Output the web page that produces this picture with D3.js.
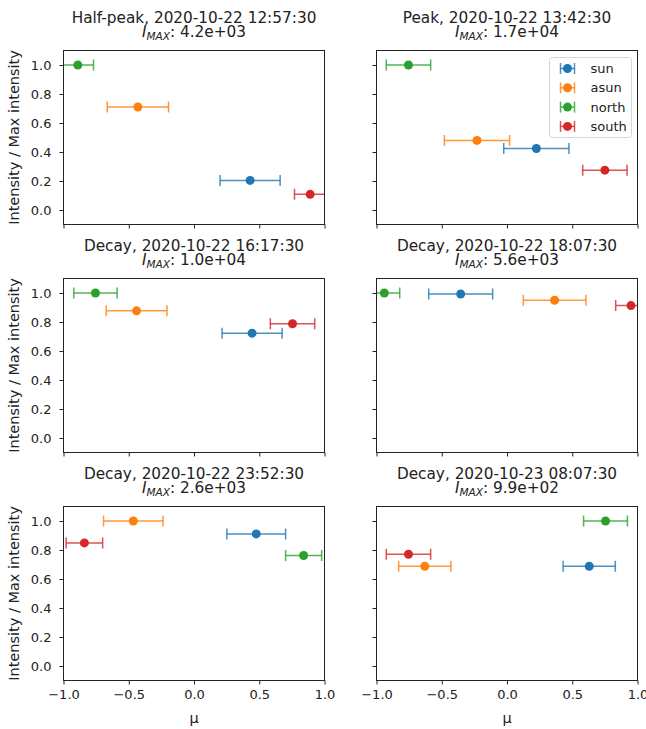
<!DOCTYPE html>
<html>
<head>
<meta charset="utf-8">
<script src="https://cdn.jsdelivr.net/npm/d3@7"></script>
<style>
  body { margin: 0; background: #fff; }
  svg { font-family: "DejaVu Sans", sans-serif; }
  .tick text { fill: #222; }
  .tick line { stroke: #222; }
</style>
</head>
<body>
<div id="chart"></div>
<script>
// series drawn in each panel, in draw order
var series = ["sun", "asun", "north", "south"];
var palette = ["#1f77b4", "#ff7f0e", "#2ca02c", "#d62728"];

// panel titles and max intensity
var phases = ["Half-peak", "Peak", "Decay", "Decay", "Decay", "Decay"];
var times = ["2020-10-22 12:57:30", "2020-10-22 13:42:30", "2020-10-22 16:17:30",
             "2020-10-22 18:07:30", "2020-10-22 23:52:30", "2020-10-23 08:07:30"];
var imax = ["4.2e+03", "1.7e+04", "1.0e+04", "5.6e+03", "2.6e+03", "9.9e+02"];

// mu (center) per panel: sun, asun, north, south
var mu = [
  [0.43, -0.43, -0.89, 0.89],
  [0.225, -0.23, -0.755, 0.75],
  [0.445, -0.44, -0.755, 0.755],
  [-0.355, 0.365, -0.94, 0.95],
  [0.477, -0.465, 0.84, -0.84],
  [0.63, -0.63, 0.755, -0.755]
];
// half width of the mu bin
var muErr = [
  [0.23, 0.235, 0.12, 0.12],
  [0.25, 0.25, 0.17, 0.17],
  [0.23, 0.233, 0.166, 0.17],
  [0.245, 0.24, 0.118, 0.117],
  [0.225, 0.228, 0.138, 0.14],
  [0.2, 0.2, 0.168, 0.17]
];
// intensity / max intensity
var intensity = [
  [0.204, 0.71, 1.0, 0.108],
  [0.424, 0.48, 1.0, 0.275],
  [0.723, 0.877, 1.0, 0.788],
  [0.993, 0.95, 1.0, 0.913],
  [0.911, 1.0, 0.762, 0.849],
  [0.688, 0.688, 1.0, 0.771]
];

var xTicks = [-1, -0.5, 0, 0.5, 1];
var yTicks = [0, 0.2, 0.4, 0.6, 0.8, 1.0];

var width = 646, height = 729;
var colLeft = [63.5, 376.5], rowTop = [50.5, 278.5, 506.5];
var plotW = 261, plotH = 174;
var cap = 5.5, radius = 4.5;
var tickFont = 13, titleFont = 15.3, labelFont = 14.5;

var svg = d3.select("#chart").append("svg")
  .attr("width", width)
  .attr("height", height);

var x = d3.scaleLinear().domain([-1, 1]).range([0, plotW]);
var y = d3.scaleLinear().domain([-0.1, 1.1]).range([plotH, 0]);
var fmt = d3.format(".1f");

function errorbar(g, cx, cy, lo, hi, color) {
  var eb = g.append("g");
  eb.append("line")
    .attr("x1", lo).attr("x2", hi).attr("y1", cy).attr("y2", cy)
    .attr("stroke", color).attr("stroke-width", 1.5).attr("stroke-opacity", 0.8);
  [lo, hi].forEach(function (cxx) {
    eb.append("line")
      .attr("x1", cxx).attr("x2", cxx).attr("y1", cy - cap).attr("y2", cy + cap)
      .attr("stroke", color).attr("stroke-width", 1.5).attr("stroke-opacity", 0.8);
  });
  eb.append("circle")
    .attr("cx", cx).attr("cy", cy).attr("r", radius)
    .attr("fill", color);
}

phases.forEach(function (phase, i) {
  var col = i % 2, row = Math.floor(i / 2);
  var g = svg.append("g")
    .attr("transform", "translate(" + colLeft[col] + "," + rowTop[row] + ")");

  g.append("clipPath").attr("id", "clip" + i)
    .append("rect").attr("width", plotW).attr("height", plotH);

  // axes
  g.append("g")
    .attr("transform", "translate(0," + plotH + ")")
    .call(d3.axisBottom(x).tickValues(xTicks).tickSize(4).tickPadding(5)
      .tickFormat(row === 2 ? fmt : ""))
    .call(function (a) { a.select(".domain").remove(); })
    .selectAll("text").attr("font-size", tickFont).attr("font-family", "DejaVu Sans");

  g.append("g")
    .call(d3.axisLeft(y).tickValues(yTicks).tickSize(4).tickPadding(8)
      .tickFormat(col === 0 ? fmt : ""))
    .call(function (a) { a.select(".domain").remove(); })
    .selectAll("text").attr("font-size", tickFont).attr("font-family", "DejaVu Sans");

  // data
  var marks = g.append("g").attr("clip-path", "url(#clip" + i + ")");
  series.forEach(function (s, j) {
    errorbar(marks,
      x(mu[i][j]), y(intensity[i][j]),
      x(mu[i][j] - muErr[i][j]), x(mu[i][j] + muErr[i][j]),
      palette[j]);
  });

  g.append("rect")
    .attr("width", plotW).attr("height", plotH)
    .attr("fill", "none").attr("stroke", "#222").attr("stroke-width", 1);

  // title
  g.append("text")
    .attr("x", plotW / 2).attr("y", -27.3)
    .attr("text-anchor", "middle").attr("font-size", titleFont).attr("fill", "#222")
    .text(phase + ", " + times[i]);
  var t2 = g.append("text")
    .attr("x", plotW / 2).attr("y", -13.2)
    .attr("text-anchor", "middle").attr("font-size", titleFont).attr("fill", "#222");
  t2.append("tspan").attr("font-style", "italic").text("I");
  t2.append("tspan").attr("font-style", "italic").attr("font-size", 10.5)
    .attr("dy", 3).text("MAX");
  t2.append("tspan").attr("dy", -3).text(": " + imax[i]);

  if (col === 0) {
    svg.append("text")
      .attr("transform", "translate(19," + (rowTop[row] + plotH / 2) + ") rotate(-90)")
      .attr("text-anchor", "middle").attr("font-size", labelFont).attr("fill", "#222")
      .text("Intensity / Max intensity");
  }
  if (row === 2) {
    g.append("text")
      .attr("x", plotW / 2).attr("y", plotH + 42)
      .attr("text-anchor", "middle").attr("font-size", labelFont).attr("fill", "#222")
      .text("μ");
  }

  // legend
  if (i === 1) {
    var lg = g.append("g").attr("transform", "translate(173,7)");
    lg.append("rect")
      .attr("width", 82).attr("height", 80).attr("rx", 3)
      .attr("fill", "#fff").attr("fill-opacity", 0.8)
      .attr("stroke", "#d6d6d6");
    series.forEach(function (s, j) {
      var ly = 11 + j * 19.3;
      errorbar(lg, 18, ly, 11, 25, palette[j]);
      lg.append("text")
        .attr("x", 41).attr("y", ly).attr("dy", "0.35em")
        .attr("font-size", tickFont).attr("fill", "#222")
        .text(s);
    });
  }
});
</script>
</body>
</html>
